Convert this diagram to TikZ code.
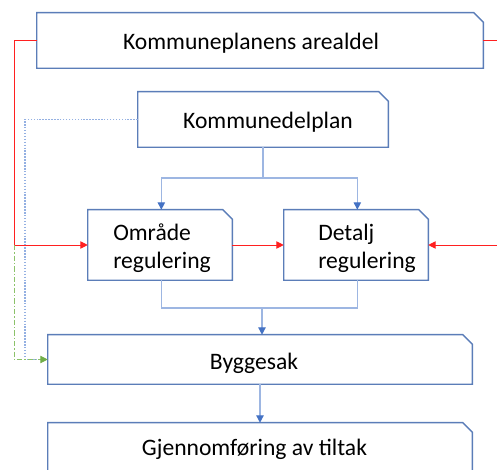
\documentclass[tikz,border=0pt]{standalone}
\usepackage{fontspec}
\setmainfont{Carlito}
\usetikzlibrary{arrows.meta}
\definecolor{boxblue}{HTML}{5B7DB8}
\definecolor{connblue}{HTML}{9DB6E2}
\definecolor{headblue}{HTML}{4472C4}
\definecolor{redline}{HTML}{FF2020}
\definecolor{greenline}{HTML}{8CC26A}
\definecolor{greenhead}{HTML}{70AD47}
\definecolor{dotblue}{HTML}{94B0E2}
\newcommand{\snipbox}[1]{%
  \draw[boxline] (#1.south west) -- (#1.north west) -- ([xshift=-7pt]#1.north east)
    -- ([yshift=-7pt]#1.north east) -- (#1.south east) -- cycle;}
\begin{document}
\begin{tikzpicture}[x=0.75pt,y=-0.75pt,
  boxshape/.style 2 args={draw=none,inner sep=0,minimum width=0.75pt*#1,minimum height=0.75pt*#2},
  boxline/.style={draw=boxblue,line width=1.1pt,line join=miter},
  txt/.style={inner sep=0,anchor=base,font=\fontsize{17.7}{20}\selectfont},
  txtl/.style={inner sep=0,anchor=base west,font=\fontsize{17.7}{20}\selectfont},
  conn/.style={draw=connblue,line width=0.9pt},
  barrow/.style={conn,-{Triangle[length=5.5pt,width=5.5pt,fill=headblue,color=headblue]}},
  rline/.style={draw=redline,line width=0.7pt},
  rarrow/.style={rline,-{Triangle[length=5.5pt,width=5.5pt]}},
  garrow/.style={draw=greenline,line width=0.7pt,dash pattern=on 4pt off 1.5pt on 1pt off 1.5pt,
    -{Triangle[length=5.5pt,width=5.5pt,fill=greenhead,color=greenhead,sep=0pt]}},
  dline/.style={draw=dotblue,line width=1pt,dash pattern=on 1.1pt off 1.1pt},
]
\useasboundingbox (0,0) rectangle (497,470);
\clip (0,0) rectangle (497,470);

% boxes
\node[boxshape={446}{55}] (kp) at (260,40.5) {};
\node[boxshape={250}{55}] (kdp) at (263,119.5) {};
\node[boxshape={144}{70}] (omr) at (160,245) {};
\node[boxshape={144}{70}] (det) at (356,245) {};
\node[boxshape={424}{49}] (byg) at (260,359.5) {};
\node[boxshape={424}{52}] (gjen) at (260,449) {};
\snipbox{kp}\snipbox{kdp}\snipbox{omr}\snipbox{det}\snipbox{byg}\snipbox{gjen}

% texts
\node[txt] (tkp) at (251,50) {Kommuneplanens arealdel};
\node[txt] (tkdp) at (268,129) {Kommunedelplan};
\node[txtl] (tomr1) at (113,241) {Område};
\node[txtl] (tomr2) at (113,268.5) {regulering};
\node[txtl] (tdet1) at (318,241) {Detalj};
\node[txtl] (tdet2) at (318,268.5) {regulering};
\node[txt] (tbyg) at (254,370) {Byggesak};
\node[txt] (tgjen) at (254.5,456) {Gjennomføring av tiltak};

% coordinates
\coordinate (s1) at (263,178);
\coordinate (s2) at (262,308);
\coordinate (rl) at (14,245);
\coordinate (rE) at (497,40.5);
\coordinate (rE2) at (497,245);
\coordinate (gd) at (14,359.5);
\coordinate (bd) at (25,359.5);

% blue connectors
\draw[conn] (kdp.south) -- (s1);
\draw[barrow] (s1) -| ([xshift=1]omr.north);
\draw[barrow] (s1) -| ([xshift=1]det.north);
\draw[conn] ([xshift=1]omr.south) |- (s2);
\draw[conn] ([xshift=1]det.south) |- (s2);
\draw[barrow] (s2) -- (s2 |- byg.north);
\draw[barrow] (byg.south) -- (gjen.north);

% dotted blue
\draw[dline] (kdp.west) -| (bd) -- ([xshift=-6]byg.west);

% red
\draw[rline] (kp.west) -| (rl);
\draw[rarrow] (rl) -- (omr.west);
\draw[rline] (kp.east) -- (rE);
\draw[rarrow] (omr.east) -- (det.west);
\draw[rarrow] (rE2) -- (det.east);

% green
\draw[garrow] (rl) -- (gd) -- (byg.west);
\end{tikzpicture}
\end{document}
